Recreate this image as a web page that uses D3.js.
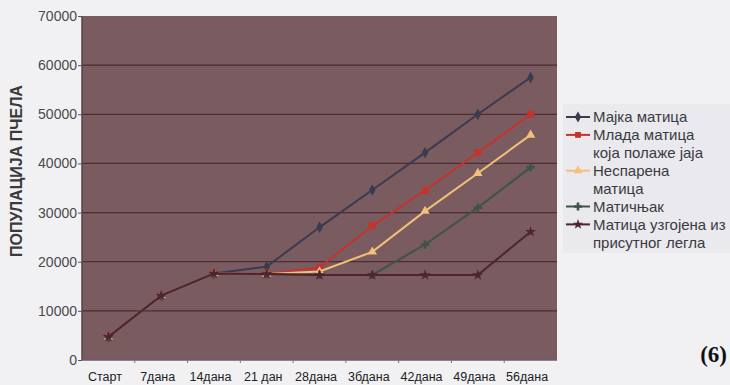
<!DOCTYPE html>
<html>
<head>
<meta charset="utf-8">
<script src="https://cdn.jsdelivr.net/npm/d3@7/dist/d3.min.js"></script>
<style>
  html, body { margin: 0; padding: 0; background: #f1f1f4; }
  svg { display: block; }
</style>
</head>
<body>
<svg id="chart" width="730" height="385"></svg>
<script>
// Categories along the horizontal axis (days after start)
const categories = ["Старт", "7дана", "14дана", "21 дан", "28дана", "3бдана", "42дана", "49дана", "56дана"];

// Bee population for each queen situation
const majkaMatica    = [4700, 13100, 17600, 19000, 27000, 34600, 42200, 50000, 57500];
const mladaMatica    = [4700, 13100, 17600, 17500, 18800, 27300, 34500, 42200, 50000];
const nesparena      = [4700, 13100, 17600, 17500, 18000, 22000, 30300, 38000, 45800];
const maticnjak      = [4700, 13100, 17600, 17500, 17300, 17300, 23500, 31000, 39200];
const uzgojenaMatica = [4700, 13100, 17600, 17500, 17300, 17300, 17300, 17300, 26100];

const seriesNames = [
  ["Мајка матица"],
  ["Млада матица", "која полаже јаја"],
  ["Неспарена", "матица"],
  ["Матичњак"],
  ["Матица узгојена из", "присутног легла"]
];
const yTicks = [0, 10000, 20000, 30000, 40000, 50000, 60000, 70000];
const yTitle = "ПОПУЛАЦИЈА ПЧЕЛА";

const seriesValues = [majkaMatica, mladaMatica, nesparena, maticnjak, uzgojenaMatica];
const colors = ["#393b50", "#c4332e", "#f2c07a", "#3f5444", "#4f2430"];
const symbols = [d3.symbolDiamond, d3.symbolSquare, d3.symbolTriangle, d3.symbolCross, d3.symbolStar];

const svg = d3.select("#chart");
const plot = { left: 82, right: 557, top: 16, bottom: 360 };

const x = d3.scalePoint().domain(categories).range([plot.left, plot.right]).padding(0.5);
const y = d3.scaleLinear().domain([0, 70000]).range([plot.bottom, plot.top]);

// Plot background
svg.append("rect")
  .attr("x", plot.left).attr("y", plot.top)
  .attr("width", plot.right - plot.left).attr("height", plot.bottom - plot.top)
  .attr("fill", "#7a5b5f");

// Horizontal gridlines
svg.append("g")
  .selectAll("line")
  .data(yTicks.filter(t => t > 0 && t < 70000))
  .join("line")
  .attr("x1", plot.left).attr("x2", plot.right)
  .attr("y1", d => y(d)).attr("y2", d => y(d))
  .attr("stroke", "#4d2c33").attr("stroke-width", 1.2);

// Plot frame
svg.append("line").attr("x1", plot.left).attr("x2", plot.left)
  .attr("y1", plot.top).attr("y2", plot.bottom).attr("stroke", "#5a4048").attr("stroke-width", 1.5);
svg.append("line").attr("x1", plot.left).attr("x2", plot.right)
  .attr("y1", plot.bottom).attr("y2", plot.bottom).attr("stroke", "#6a5a78").attr("stroke-width", 1.5);

// Y axis
const yAxis = d3.axisLeft(y).tickValues(yTicks).tickSize(4).tickFormat(d3.format("d"));
const gy = svg.append("g").attr("transform", `translate(${plot.left},0)`).call(yAxis);
gy.select(".domain").remove();
gy.selectAll(".tick line").attr("stroke", "#555");
gy.selectAll(".tick text")
  .attr("font-family", "Liberation Sans, Arial, sans-serif")
  .attr("font-size", 14).attr("fill", "#4a4a4a").attr("x", -5);

// X axis
const step = x.step();
const xAxis = d3.axisBottom(x).tickSize(0).tickPadding(12);
const gx = svg.append("g").attr("transform", `translate(0,${plot.bottom})`).call(xAxis);
gx.select(".domain").remove();
gx.selectAll(".tick text")
  .attr("font-family", "Liberation Sans, Arial, sans-serif")
  .attr("font-size", 12.5).attr("fill", "#222").attr("dx", -4);
// Category separator ticks
svg.append("g").selectAll("line")
  .data(categories.slice(0, -1))
  .join("line")
  .attr("x1", d => x(d) + step / 2).attr("x2", d => x(d) + step / 2)
  .attr("y1", plot.bottom).attr("y2", plot.bottom + 3)
  .attr("stroke", "#777");

// Y axis title
svg.append("text")
  .attr("transform", `translate(16,171) rotate(-90)`)
  .attr("text-anchor", "middle").attr("dy", "0.35em")
  .attr("font-family", "Liberation Sans, Arial, sans-serif")
  .attr("font-weight", "bold").attr("font-size", 16).attr("fill", "#3a3a3a")
  .text(yTitle);

// Series lines and markers
const line = d3.line().x((d, i) => x(categories[i])).y(d => y(d));
seriesValues.forEach((vals, si) => {
  const g = svg.append("g");
  g.append("path").datum(vals)
    .attr("d", line).attr("fill", "none")
    .attr("stroke", colors[si]).attr("stroke-width", 2);
  g.selectAll("path.m").data(vals).join("path").attr("class", "m")
    .attr("transform", (d, i) => `translate(${x(categories[i])},${y(d)})`)
    .attr("d", d3.symbol().type(symbols[si]).size(si === 1 ? 50 : 38))
    .attr("fill", colors[si]);
});

// Legend
const leg = svg.append("g");
leg.append("rect").attr("x", 563).attr("y", 104).attr("width", 167).attr("height", 149)
  .attr("fill", "#e9e9ee");
let row = 0;
const rowH = 17.9;
seriesNames.forEach((lines, si) => {
  const cy = 117 + row * rowH;
  leg.append("line").attr("x1", 566).attr("x2", 590).attr("y1", cy).attr("y2", cy)
    .attr("stroke", colors[si]).attr("stroke-width", 2);
  leg.append("path").attr("transform", `translate(578,${cy})`)
    .attr("d", d3.symbol().type(symbols[si]).size(34)).attr("fill", colors[si]);
  lines.forEach((t, li) => {
    leg.append("text").attr("x", 593).attr("y", cy + li * rowH).attr("dy", "0.35em")
      .attr("font-family", "Liberation Sans, Arial, sans-serif")
      .attr("font-size", 15).attr("fill", "#3a3a40").text(t);
  });
  row += lines.length;
});

// Figure number
svg.append("text").attr("x", 727).attr("y", 362).attr("text-anchor", "end")
  .attr("font-family", "Liberation Serif, Times New Roman, serif")
  .attr("font-weight", "bold").attr("font-size", 23).attr("fill", "#111")
  .text("(6)");
</script>
</body>
</html>
